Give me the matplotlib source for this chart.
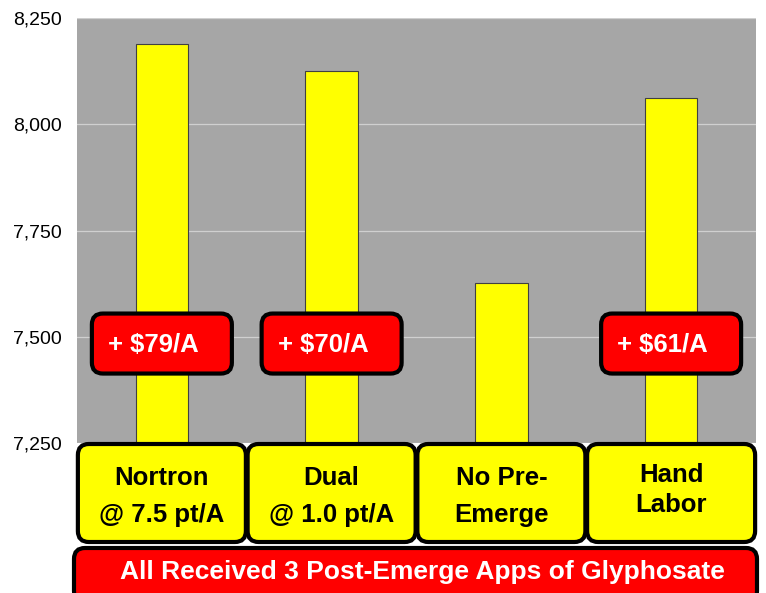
import matplotlib

matplotlib.use("Agg")
import matplotlib.pyplot as plt
from matplotlib.patches import FancyBboxPatch
from matplotlib.transforms import IdentityTransform

# Datos
categorias = [["Nortron", "@ 7.5 pt/A"], ["Dual", "@ 1.0 pt/A"], ["No Pre-", "Emerge"], ["Hand", "Labor"]]
rendimiento = [8188, 8125, 7626, 8062]
costo_extra = ["+ $79/A", "+ $70/A", None, "+ $61/A"]
nota_pie = "All Received 3 Post-Emerge Apps of Glyphosate"
ticks_y = [7250, 7500, 7750, 8000, 8250]

plt.rcParams["font.family"] = ["Liberation Sans", "DejaVu Sans"]

W, H = 766, 593
fig = plt.figure(figsize=(W / 100, H / 100), dpi=100)
ax = fig.add_axes([77 / W, 1 - 443 / H, (756 - 77) / W, (443 - 18) / H])
ax.set_facecolor("#a6a6a6")

x = list(range(len(categorias)))
ax.bar(x, rendimiento, width=0.31, color="#ffff00", edgecolor="#404040", linewidth=0.8, zorder=3)

ax.set_xlim(-0.5, len(categorias) - 0.5)
ax.set_ylim(ticks_y[0], ticks_y[-1])
ax.set_yticks(ticks_y)
ax.set_yticklabels([f"{t:,}" for t in ticks_y])
ax.tick_params(axis="y", length=0, pad=11, labelsize=14, labelcolor="black")
ax.set_xticks([])
ax.grid(axis="y", color="#d0d0d0", linewidth=0.9, zorder=0)
for s in ax.spines.values():
    s.set_visible(False)

fig.canvas.draw()


def caja(x0, y0, w, h, cara):
    # coordenadas en pixeles (origen abajo-izquierda)
    p = FancyBboxPatch(
        (x0, y0), w, h,
        boxstyle="round,pad=0,rounding_size=11",
        facecolor=cara, edgecolor="black", linewidth=3,
        transform=IdentityTransform(), clip_on=False, zorder=5,
    )
    fig.add_artist(p)


def texto(tx, ty, s, color, tam, ha="center"):
    t = fig.text(0, 0, s, color=color, fontsize=tam, fontweight="bold",
                 ha=ha, va="center", zorder=6)
    t.set_transform(IdentityTransform())
    t.set_position((tx, ty))


# Etiquetas de costo (rojas) sobre las barras
for i, c in enumerate(costo_extra):
    if c is None:
        continue
    cx, cy = ax.transData.transform((i, 7484))
    caja(cx - 70, cy - 30, 140, 60, "#ff0000")
    texto(cx - 54, cy - 1, c, "white", 18.5, ha="left")

# Cajas de categoria (amarillas) bajo el eje
for i, (l1, l2) in enumerate(categorias):
    cx, _ = ax.transData.transform((i, 0))
    caja(cx - 84, H - 542, 168, 98, "#ffff00")
    sep = 30 if l1 == "Hand" else 37
    yc = H - (490 if l1 == "Hand" else 496.5)
    texto(cx, yc + sep / 2, l1, "black", 18.5)
    texto(cx, yc - sep / 2, l2, "black", 18.5)

# Nota inferior
caja(74, H - 602, 683, 54, "#ff0000")
texto(422, H - 572, nota_pie, "white", 19)

fig.savefig("out.png", dpi=100)
